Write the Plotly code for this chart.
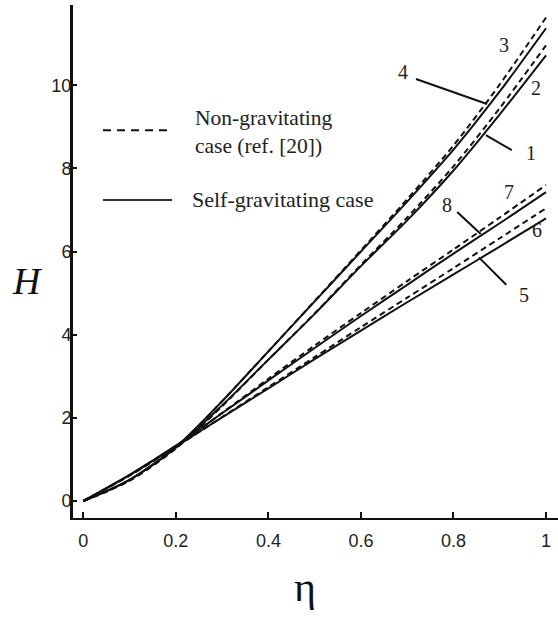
import plotly.graph_objects as go

# ---------------- data ----------------
eta = [0.0, 0.1, 0.2, 0.3, 0.4, 0.5, 0.6, 0.7, 0.8, 0.9, 1.0]

# non-gravitating (dashed) and self-gravitating (solid) curves
h_curve1 = [0, 0.51, 1.28, 2.30, 3.40, 4.50, 5.65, 6.75, 7.95, 9.30, 10.72]   # solid
h_curve2 = [0, 0.49, 1.26, 2.28, 3.40, 4.51, 5.68, 6.82, 8.05, 9.45, 10.96]   # dashed
h_curve3 = [0, 0.49, 1.28, 2.40, 3.60, 4.81, 6.03, 7.26, 8.55, 10.02, 11.63]  # dashed
h_curve4 = [0, 0.51, 1.30, 2.40, 3.60, 4.80, 6.00, 7.20, 8.45, 9.85, 11.37]   # solid
h_curve5 = [0, 0.62, 1.31, 2.01, 2.71, 3.41, 4.10, 4.78, 5.45, 6.12, 6.80]    # solid
h_curve6 = [0, 0.61, 1.30, 2.02, 2.74, 3.46, 4.18, 4.89, 5.60, 6.32, 7.04]    # dashed
h_curve7 = [0, 0.62, 1.32, 2.12, 2.94, 3.74, 4.52, 5.29, 6.05, 6.82, 7.60]    # dashed
h_curve8 = [0, 0.63, 1.33, 2.11, 2.90, 3.68, 4.45, 5.20, 5.95, 6.68, 7.43]    # solid

curves = {
    "1": (h_curve1, "solid"),
    "2": (h_curve2, "dashed"),
    "3": (h_curve3, "dashed"),
    "4": (h_curve4, "solid"),
    "5": (h_curve5, "solid"),
    "6": (h_curve6, "dashed"),
    "7": (h_curve7, "dashed"),
    "8": (h_curve8, "solid"),
}

x_ticks = [0, 0.2, 0.4, 0.6, 0.8, 1.0]
x_tick_labels = ["0", "0.2", "0.4", "0.6", "0.8", "1"]
y_ticks = [0, 2, 4, 6, 8, 10]
y_tick_labels = ["0", "2", "4", "6", "8", "10"]

legend_dashed = "Non-gravitating<br>case (ref. [20])"
legend_solid = "Self-gravitating case"

# curve number labels: (text, x, y)
plain_labels = [("3", 0.909, 10.97), ("2", 0.978, 9.94), ("7", 0.920, 7.43), ("6", 0.980, 6.52)]
# labels with leader lines: (text, label x, label y, line start x, y, line end x, y)
leader_labels = [
    ("4", 0.691, 10.32, 0.719, 10.15, 0.8725, 9.55),
    ("1", 0.967, 8.37, 0.926, 8.44, 0.870, 8.80),
    ("8", 0.786, 7.12, 0.808, 6.95, 0.859, 6.42),
    ("5", 0.952, 4.96, 0.914, 5.20, 0.855, 5.86),
]

# ---------------- figure ----------------
fig = go.Figure()
for name, (vals, style) in curves.items():
    dash = "6px,4px" if style == "dashed" else "solid"
    fig.add_trace(go.Scatter(
        x=eta, y=vals, mode="lines", name=name,
        line=dict(color="#111111", width=2, dash=dash, shape="spline", smoothing=0.8),
        showlegend=False, hoverinfo="skip",
    ))

serif = "Liberation Serif, Times New Roman, serif"
narrow = "Liberation Sans Narrow, Arial Narrow, Liberation Sans, Arial, sans-serif"

shapes = []
annotations = []

# legend samples
shapes.append(dict(type="line", xref="x", yref="y", x0=0.0426, x1=0.181, y0=8.92, y1=8.92,
                   line=dict(color="#111111", width=2, dash="8px,6px")))
shapes.append(dict(type="line", xref="x", yref="y", x0=0.0426, x1=0.1917, y0=7.24, y1=7.24,
                   line=dict(color="#333333", width=2)))
annotations.append(dict(x=0.2375, y=8.88, xref="x", yref="y", text=legend_dashed, showarrow=False,
                        xanchor="left", yanchor="middle", align="left",
                        font=dict(family=serif, size=21.5, color="#222222")))
annotations.append(dict(x=0.2305, y=7.26, xref="x", yref="y", text=legend_solid, showarrow=False,
                        xanchor="left", yanchor="middle", align="left",
                        font=dict(family=serif, size=22, color="#222222")))

for t, x, y in plain_labels:
    annotations.append(dict(x=x, y=y, xref="x", yref="y", text=t, showarrow=False,
                            font=dict(family=serif, size=20, color="#222222")))
for t, lx, ly, x0, y0, x1, y1 in leader_labels:
    annotations.append(dict(x=lx, y=ly, xref="x", yref="y", text=t, showarrow=False,
                            font=dict(family=serif, size=20, color="#222222")))
    shapes.append(dict(type="line", xref="x", yref="y", x0=x0, y0=y0, x1=x1, y1=y1,
                       line=dict(color="#111111", width=2)))

# axis titles
annotations.append(dict(x=0, y=0.5, xref="paper", yref="paper", text="<i>H</i>", showarrow=False,
                        xanchor="center", yanchor="middle", xshift=-46, yshift=-19,
                        font=dict(family=serif, size=38, color="#111111")))
annotations.append(dict(x=0.48, y=0, xref="x", yref="paper", text="η", showarrow=False,
                        xanchor="center", yanchor="top", yshift=-44,
                        font=dict(family=serif, size=42, color="#111111")))

fig.update_layout(
    width=558, height=619,
    margin=dict(l=73, r=0, t=5, b=101, autoexpand=False),
    paper_bgcolor="white", plot_bgcolor="white",
    shapes=shapes, annotations=annotations,
    showlegend=False,
)
fig.update_xaxes(
    range=[-0.0223, 1.0259], tickvals=x_ticks, ticktext=x_tick_labels,
    showline=True, linecolor="#111111", linewidth=2, mirror=False,
    ticks="inside", ticklen=6, tickwidth=2, tickcolor="#111111",
    showgrid=False, zeroline=False, automargin=False,
    tickfont=dict(family=narrow, size=18, color="#222222"),
    ticklabelstandoff=5, ticklabeloverflow="allow",
)
fig.update_yaxes(
    range=[-0.409, 11.93], tickvals=y_ticks, ticktext=y_tick_labels,
    showline=True, linecolor="#111111", linewidth=3, mirror=False,
    ticks="inside", ticklen=4, tickwidth=2, tickcolor="#111111",
    showgrid=False, zeroline=False, automargin=False,
    tickfont=dict(family=narrow, size=18, color="#222222"),
    ticklabelstandoff=-5,
)

fig.write_html(
    "out.html",
    config={"displayModeBar": False, "staticPlot": True},
    post_script="document.body.style.margin='0';document.body.style.padding='0';"
                "document.documentElement.style.overflow='hidden';",
)
